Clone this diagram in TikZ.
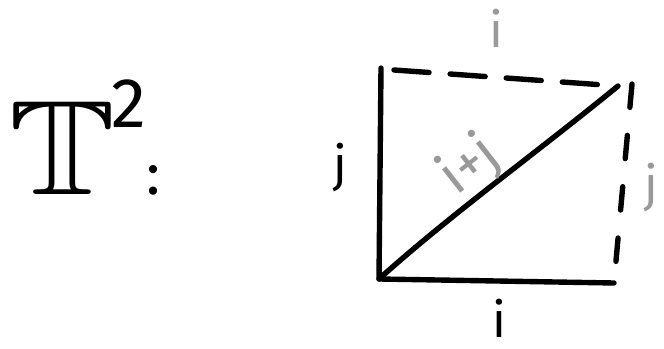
\documentclass[tikz,border=0pt]{standalone}
\usepackage{amssymb}
\usepackage{fontspec}
\setsansfont{Fira Sans}
\begin{document}
\begin{tikzpicture}[x=0.03cm,y=-0.03cm,
  edge/.style={line width=4.6pt,line cap=round,line join=round},
  dashedge/.style={edge,dash pattern=on 30pt off 18pt},
  vdashedge/.style={edge,dash pattern=on 20pt off 24pt},
  blacklab/.style={font=\sffamily\fontsize{42}{42}\selectfont,text=black,inner sep=0pt},
  graylab/.style={font=\sffamily\fontsize{42}{42}\selectfont,text=black!40,inner sep=0pt}]
\useasboundingbox (0,0) rectangle (664,349);
\coordinate (bl) at (379,279);
\coordinate (tl) at (381,68);
\coordinate (tr) at (618,86);
\coordinate (br) at (614,283);
\coordinate (tr2) at (632,84);
\node[inner sep=0pt,anchor=base west,font=\fontsize{115}{115}\selectfont] (torus) at (8,195) {\scalebox{1.2}[1]{$\mathbb{T}$}\kern-4pt\raisebox{58pt}{\fontsize{60}{60}\selectfont\sffamily 2}\fontsize{50}{50}\selectfont\sffamily:};
\draw[edge] (tl) -- (bl) -- (br);
\draw[edge] (bl) .. controls (450,215) and (540,150) .. (tr);
\draw[dashedge] (394,70) -- (tr);
\draw[vdashedge] (tr2) -- (br);
\node[graylab] (itop) at (496,28) {i};
\node[blacklab] (ibot) at (499,318) {i};
\node[blacklab] (jl) at (340,168) {j};
\node[graylab] (jr) at (651,188) {j};
\node[graylab,rotate=38,font=\sffamily\fontsize{48}{48}\selectfont] (ij) at (470,166) {i+j};
\end{tikzpicture}
\end{document}
